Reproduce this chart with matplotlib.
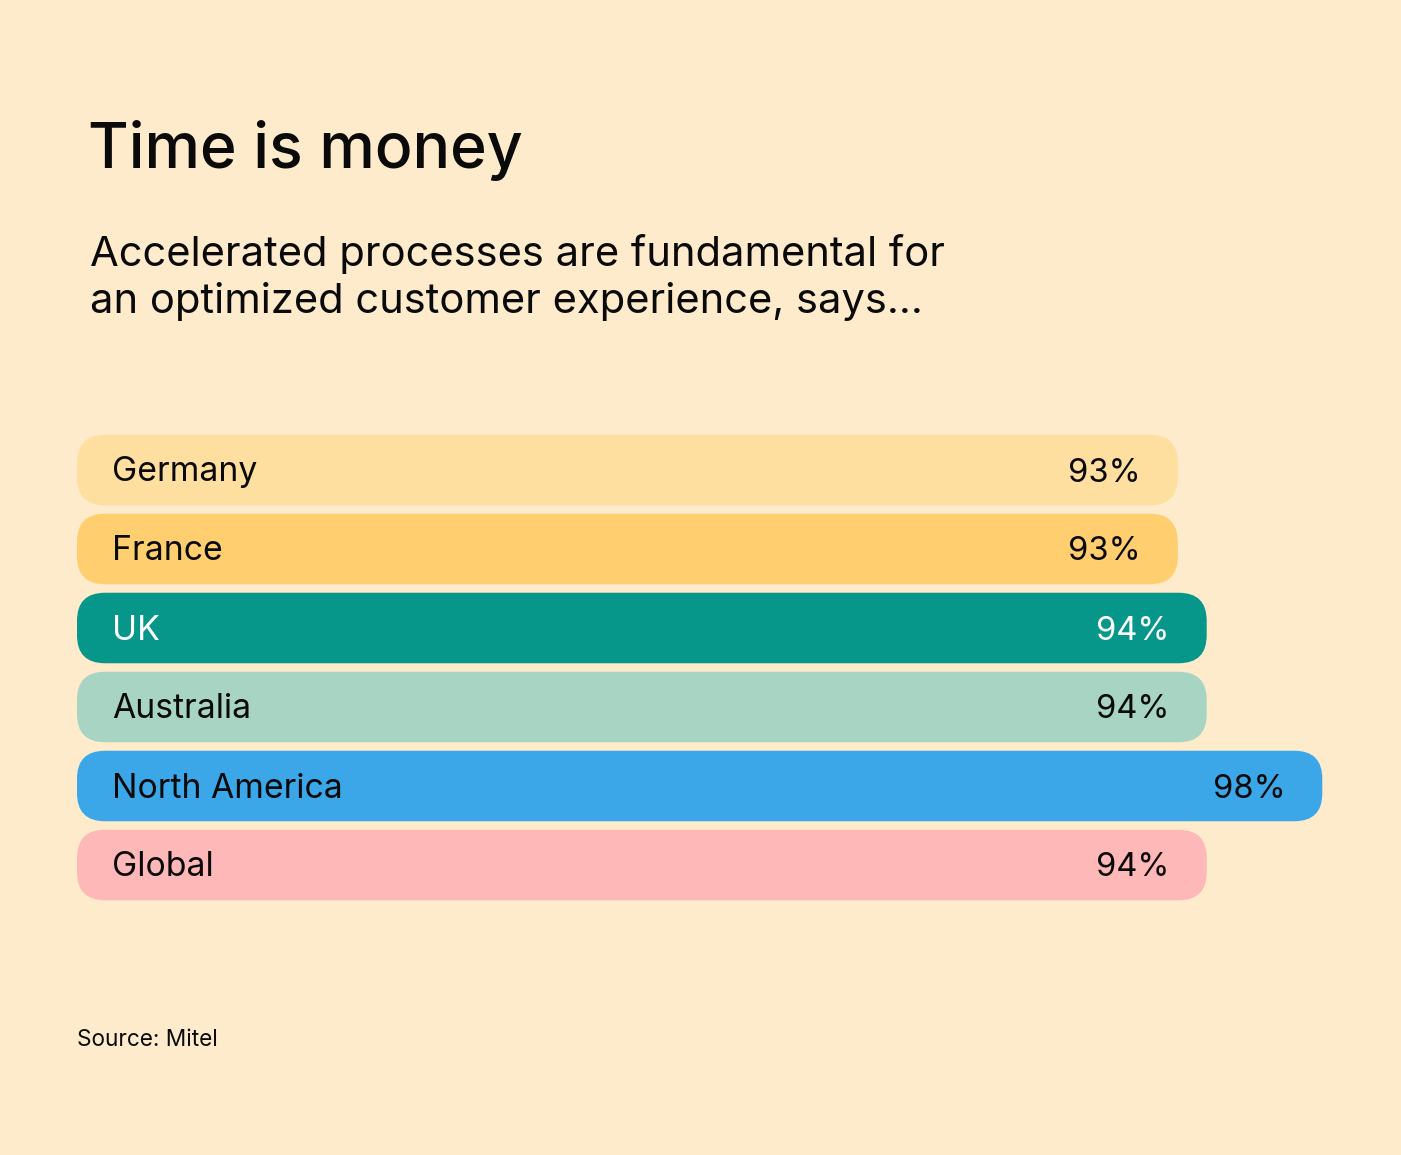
import matplotlib
matplotlib.use("Agg")
import matplotlib.pyplot as plt
from matplotlib.patches import FancyBboxPatch

# chart data
regions = ["Germany", "France", "UK", "Australia", "North America", "Global"]
values = [93, 93, 94, 94, 98, 94]
bar_colors = ["#FFDF9F", "#FFCE6E", "#06968A", "#A8D5C3", "#3BA6E8", "#FFB8B8"]
text_colors = ["#0A0A0A", "#0A0A0A", "#FFFFFF", "#0A0A0A", "#0A0A0A", "#0A0A0A"]

title = "Time is money"
subtitle_lines = ["Accelerated processes are fundamental for",
                  "an optimized customer experience, says..."]
source = "Source: Mitel"

bg = "#FDEBCB"
W, H = 1401, 1155
plt.rcParams['font.family'] = ['Inter', 'DejaVu Sans']

fig = plt.figure(figsize=(W / 100, H / 100), dpi=100, facecolor=bg)

# bars area in pixels
px_left, px_top = 77, 430.5
row_px = 79
bar_px = 70.5
px_per_pct = 28.9
base = 54.91

ax_w = W - px_left
ax_h = row_px * len(regions)
ax = fig.add_axes([px_left / W, 1 - (px_top + ax_h) / H, ax_w / W, ax_h / H])
ax.set_facecolor(bg)
ax.set_xlim(base, base + ax_w / px_per_pct)
ax.set_ylim(len(regions) - 0.5, -0.5)
ax.axis("off")

bh = bar_px / row_px
radius_px = 28
pt = 0.72  # points per pixel at dpi 100
for i, (name, v, c, tc) in enumerate(zip(regions, values, bar_colors, text_colors)):
    box = FancyBboxPatch((base, i - bh / 2), v - base, bh,
                         boxstyle=f"round,pad=0,rounding_size={radius_px / px_per_pct}",
                         mutation_aspect=px_per_pct / row_px,
                         facecolor=c, edgecolor="none")
    ax.add_patch(box)
    ax.annotate(name, (base, i), xytext=(35 * pt, -11.5 * pt),
                textcoords="offset points", ha="left", va="baseline",
                fontsize=24.3, color=tc)
    ax.annotate(f"{v}%", (v, i), xytext=(-37 * pt, -11.5 * pt),
                textcoords="offset points", ha="right", va="baseline",
                fontsize=23.5, color=tc)

fig.text(88 / W, 1 - 168 / H, title, fontsize=45, fontweight="medium",
         color="#0A0A0A", ha="left", va="baseline")
for k, line in enumerate(subtitle_lines):
    fig.text(90 / W, 1 - (266 + 47 * k) / H, line, fontsize=30,
             color="#0A0A0A", ha="left", va="baseline")
fig.text(77 / W, 1 - 1046 / H, source, fontsize=16.3, color="#0A0A0A",
         ha="left", va="baseline")

fig.savefig("out.png", dpi=100, facecolor=bg)
